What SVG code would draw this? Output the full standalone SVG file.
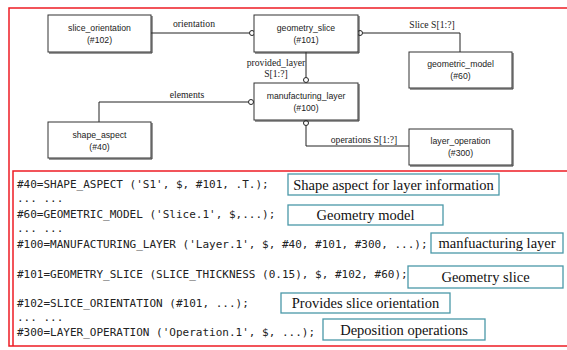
<svg xmlns="http://www.w3.org/2000/svg" width="567" height="350" viewBox="0 0 567 350">
<style>
.frame{fill:none;stroke:#ee1c24;stroke-width:1.5}
.box{fill:#fff;stroke:#333;stroke-width:1}
.shadow{fill:none;stroke:#333;stroke-width:1}
.nt{font-family:"Liberation Sans",Arial,sans-serif;font-size:8.7px;fill:#222;text-anchor:middle}
.cl{font-family:"Liberation Serif","Times New Roman",serif;font-size:9.7px;fill:#222;text-anchor:middle}
.ln{fill:none;stroke:#222;stroke-width:1}
.dot{fill:#fff;stroke:#222;stroke-width:1}
.code{font-family:"DejaVu Sans Mono","Liberation Mono",monospace;font-size:11px;fill:#222}
.ab{fill:#fff;stroke:#4a98a8;stroke-width:1.3}
.at{font-family:"Liberation Serif","Times New Roman",serif;font-size:14.5px;fill:#111;text-anchor:middle}
</style>
<rect x="0" y="0" width="567" height="350" fill="#fff"/>
<path class="frame" d="M575,8 H9 V346 H575"/>
<path class="frame" d="M575,171 H13 V346"/>

<g id="connectors">
  <path class="ln" d="M151,33 H249.5"/>
  <circle class="dot" cx="252" cy="33" r="2.5"/>
  <text class="cl" x="194" y="27">orientation</text>
  <path class="ln" d="M362.5,33 H460 V52"/>
  <circle class="dot" cx="360" cy="33" r="2.5"/>
  <text class="cl" x="432" y="28">Slice S[1:?]</text>
  <path class="ln" d="M306,52 V77.5"/>
  <circle class="dot" cx="306" cy="80" r="2.5"/>
  <text class="cl" x="276" y="66">provided_layer</text>
  <text class="cl" x="276" y="77">S[1:?]</text>
  <path class="ln" d="M248.5,102 H99 V122"/>
  <circle class="dot" cx="251" cy="102" r="2.5"/>
  <text class="cl" x="187" y="98">elements</text>
  <path class="ln" d="M306,125.5 V146 H409"/>
  <circle class="dot" cx="306" cy="123" r="2.5"/>
  <text class="cl" x="364" y="143">operations S[1:?]</text>
</g>

<g id="n102">
  <path class="shadow" d="M152,16 V53 H49"/>
  <rect class="box" x="48" y="15" width="103" height="37"/>
  <text class="nt" x="99.5" y="31">slice_orientation</text>
  <text class="nt" x="99.5" y="43">(#102)</text>
</g>
<g id="n101">
  <path class="shadow" d="M359,16 V53 H255"/>
  <rect class="box" x="254" y="15" width="104" height="37"/>
  <text class="nt" x="306" y="31">geometry_slice</text>
  <text class="nt" x="306" y="43">(#101)</text>
</g>
<g id="n60">
  <path class="shadow" d="M513,53 V89 H410"/>
  <rect class="box" x="409" y="52" width="103" height="36"/>
  <text class="nt" x="460.5" y="67">geometric_model</text>
  <text class="nt" x="460.5" y="79">(#60)</text>
</g>
<g id="n100">
  <path class="shadow" d="M359,84 V121 H255"/>
  <rect class="box" x="254" y="83" width="104" height="37"/>
  <text class="nt" x="306" y="99">manufacturing_layer</text>
  <text class="nt" x="306" y="111">(#100)</text>
</g>
<g id="n40">
  <path class="shadow" d="M152,123 V159 H49"/>
  <rect class="box" x="48" y="122" width="103" height="36"/>
  <text class="nt" x="99.5" y="138">shape_aspect</text>
  <text class="nt" x="99.5" y="150">(#40)</text>
</g>
<g id="n300">
  <path class="shadow" d="M513,130 V166 H410"/>
  <rect class="box" x="409" y="129" width="103" height="36"/>
  <text class="nt" x="460.5" y="144">layer_operation</text>
  <text class="nt" x="460.5" y="156">(#300)</text>
</g>

<g id="code">
  <text class="code" x="17" y="188">#40=SHAPE_ASPECT ('S1', $, #101, .T.);</text>
  <text class="code" x="17" y="202">... ...</text>
  <text class="code" x="17" y="218">#60=GEOMETRIC_MODEL ('Slice.1', $,...);</text>
  <text class="code" x="17" y="232">... ...</text>
  <text class="code" x="17" y="248">#100=MANUFACTURING_LAYER ('Layer.1', $, #40, #101, #300, ...);</text>
  <text class="code" x="17" y="278">#101=GEOMETRY_SLICE (SLICE_THICKNESS (0.15), $, #102, #60);</text>
  <text class="code" x="17" y="307">#102=SLICE_ORIENTATION (#101, ...);</text>
  <text class="code" x="17" y="321">... ...</text>
  <text class="code" x="17" y="336">#300=LAYER_OPERATION ('Operation.1', $, ...);</text>
</g>

<g id="a1">
  <rect class="ab" x="288" y="174" width="211" height="21"/>
  <text class="at" x="393.5" y="189.5">Shape aspect for layer information</text>
</g>
<g id="a2">
  <rect class="ab" x="288" y="205" width="155" height="20"/>
  <text class="at" x="365.5" y="220">Geometry model</text>
</g>
<g id="a3">
  <rect class="ab" x="431" y="233" width="132" height="20"/>
  <text class="at" x="497" y="248">manfuacturing layer</text>
</g>
<g id="a4">
  <rect class="ab" x="408" y="266" width="155" height="22"/>
  <text class="at" x="485.5" y="282">Geometry slice</text>
</g>
<g id="a5">
  <rect class="ab" x="281" y="293" width="169" height="20"/>
  <text class="at" x="365.5" y="308">Provides slice orientation</text>
</g>
<g id="a6">
  <rect class="ab" x="323" y="319" width="162" height="21"/>
  <text class="at" x="404" y="334.5">Deposition operations</text>
</g>
</svg>
